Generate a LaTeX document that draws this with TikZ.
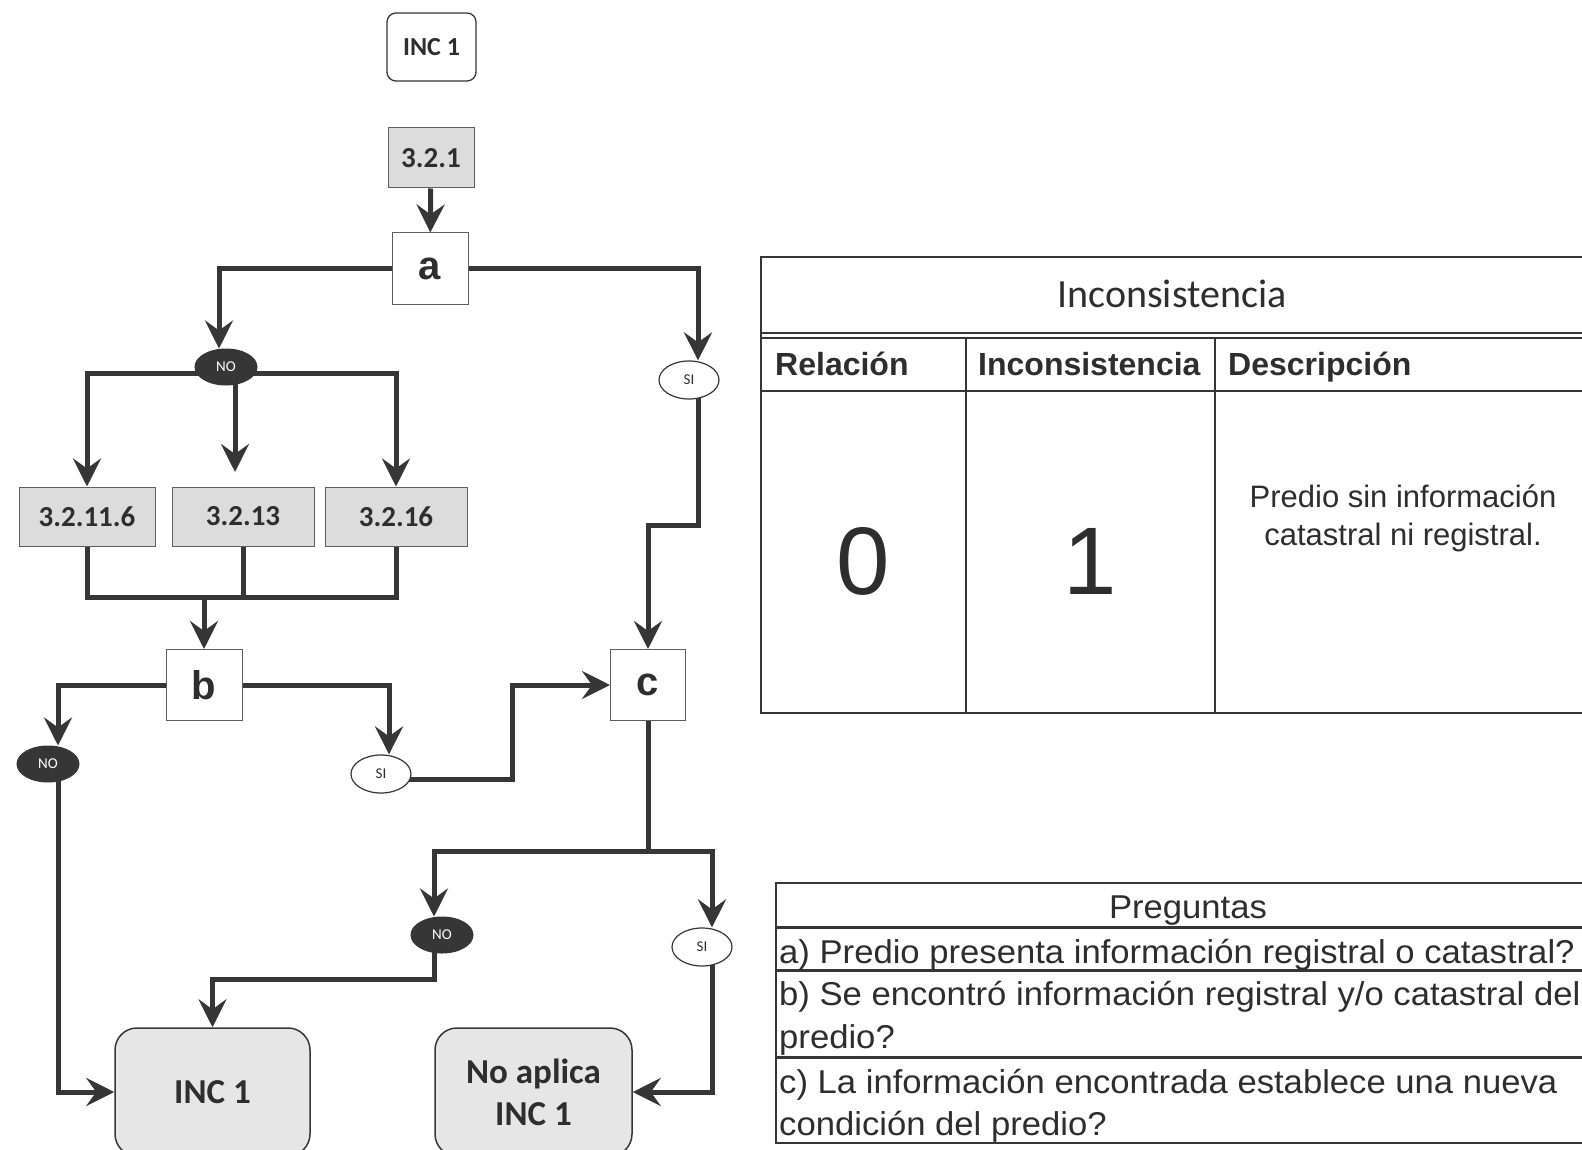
\documentclass[tikz,border=0pt]{standalone}
\usepackage{fontspec}
\setmainfont{Carlito}
\newfontfamily\arialf{Liberation Sans}
\newfontfamily\arialw[FakeStretch=1.05]{Liberation Sans}
\usetikzlibrary{arrows.meta,shapes.geometric,backgrounds}
\definecolor{ink}{HTML}{363636}
\definecolor{boxgray}{HTML}{DCDCDC}
\definecolor{termgray}{HTML}{E6E6E6}
\definecolor{txt}{HTML}{2E2E2E}
\newcommand{\fsz}[1]{\fontsize{#1}{#1}\selectfont}
\tikzset{
  conn/.style={draw=ink, line width=5pt},
  arr/.style={conn, -{Stealth[length=28pt,width=28pt,inset=10pt]}},
  labbox/.style={draw=ink!80, line width=1pt, fill=boxgray, inner sep=0pt,
    font=\bfseries\fsz{29}, text=txt},
  qbox/.style={draw=ink!80, line width=1pt, fill=white, inner sep=0pt,
    font=\arialf\bfseries\fsz{40}, text=txt, minimum height=71pt},
  nodec/.style={ellipse, draw=ink, line width=1pt, fill=ink, text=white,
    inner sep=0pt, minimum width=62pt, minimum height=36pt, font=\fsz{15}},
  yesc/.style={ellipse, draw=ink, line width=1.2pt, fill=white, text=txt,
    inner sep=0pt, minimum width=60pt, minimum height=38pt, font=\fsz{15}},
  term/.style={rounded corners=22pt, draw=ink, line width=1.5pt, fill=termgray,
    inner sep=0pt, align=center, font=\bfseries\fontsize{35}{42}\selectfont, text=txt},
  tline/.style={draw=ink, line width=2pt},
  tlinew/.style={draw=ink, line width=3pt},
  ttxt/.style={text=txt, inner sep=0pt}
}
\begin{document}
\begin{tikzpicture}[x=1pt,y=-1pt]
\useasboundingbox (0,0) rectangle (1582,1150);
\clip (0,0) rectangle (1582,1150);

% ---------- flowchart nodes ----------
\node[draw=ink, line width=1.3pt, rounded corners=9pt, fill=white,
      minimum width=89pt, minimum height=68pt, inner sep=0pt,
      font=\bfseries\fsz{26}, text=txt] (inctop) at (431.5,47) {INC 1};
\node[labbox, minimum width=86pt, minimum height=60pt] (n321) at (431,158) {3.2.1};
\node[qbox, minimum width=76pt, minimum height=72pt] (qa) at (430,269) {a};
\node[nodec] (no1) at (226,367) {NO};
\node[yesc] (si1) at (689,380) {SI};

\node[labbox, minimum width=136pt, minimum height=59pt] (r3116) at (87,516.5) {3.2.11.6};
\node[labbox, minimum width=142pt, minimum height=59pt] (r3213) at (243,516.5) {3.2.13};
\node[labbox, minimum width=142pt, minimum height=59pt] (r3216) at (396,516.5) {3.2.16};

\node[qbox, minimum width=76pt] (qb) at (204,685) {b};
\node[qbox, minimum width=75pt] (qc) at (648,685) {c};
\node[nodec] (no2) at (48,764) {NO};
\node[yesc] (si2) at (381,774) {SI};
\node[nodec] (no3) at (442,935) {NO};
\node[yesc] (si3) at (702,947) {SI};

\node[term, minimum width=195pt, minimum height=128pt] (inc1) at (212.5,1092) {INC 1};
\node[term, minimum width=197pt, minimum height=128pt] (noap) at (533.5,1092) {No aplica\\INC 1};

% ---------- bend points ----------
\coordinate (m13) at (235,472);
\coordinate (mj) at (204,597);
\coordinate (kink) at (512,685);
\coordinate (k2) at (648,525);
\coordinate (split) at (648,851);
\coordinate (k3) at (434,979);

% ---------- connectors ----------
\begin{scope}[on background layer]
\fill[white] (0,0) rectangle (1582,1150);
\draw[arr] (n321) -- (qa);
\draw[arr] (qa.west) -| ([xshift=-7pt]no1.north);
\draw[arr] (qa.east) -| ([xshift=9pt]si1.north);
\draw[arr] ([yshift=-6pt]no1.center) -| (r3116.north);
\draw[arr] ([yshift=-6pt]no1.center) -| (r3216.north);
\draw[arr] ([xshift=9pt]no1.center) -- (m13);
\draw[conn] (r3116.south) |- (mj) -| (r3216.south);
\draw[conn] (r3213.south) -- (r3213.south |- mj);
\draw[arr] (mj) -- (qb.north);
\draw[arr] (qb.west) -| ([xshift=10pt]no2.north);
\draw[arr] ([xshift=10pt]no2.center) |- (inc1.west);
\draw[arr] (qb.east) -| ([xshift=8pt]si2.north);
\draw[arr] ([yshift=-5pt]si2.center) -| (kink) -- (qc.west);
\draw[arr] ([xshift=9pt]si1.center) |- (k2) -- (qc.north);
\draw[conn] (qc.south) -- (split);
\draw[arr] (split) -| ([xshift=-8pt]no3.north);
\draw[arr] (split) -| ([xshift=10pt]si3.north);
\draw[arr] ([xshift=-8pt]no3.center) -- (k3) -| (inc1.north);
\draw[arr] ([xshift=10pt]si3.center) |- (noap.east);
\end{scope}

% ---------- table: Inconsistencia ----------
\draw[tline] (1590,257) -- (761,257) -- (761,713) -- (1590,713);
\draw[tline] (761,333) -- (1590,333);
\draw[tline] (761,338) -- (1590,338);
\draw[tline] (761,391) -- (1590,391);
\draw[tline] (966,338) -- (966,713);
\draw[tline] (1215,338) -- (1215,713);
\node[ttxt, anchor=base, font=\fsz{40}] (ttitle) at (1172,308) {Inconsistencia};
\node[ttxt, anchor=base west, font=\arialf\bfseries\fsz{32}] (hrel) at (775,375) {Relación};
\node[ttxt, anchor=base west, font=\arialf\bfseries\fsz{32}] (hinc) at (978,375) {Inconsistencia};
\node[ttxt, anchor=base west, font=\arialf\bfseries\fsz{32}] (hdes) at (1228,375) {Descripción};
\node[ttxt, anchor=base, font=\arialf\fsz{96}] (vrel) at (863.5,594) {0};
\node[ttxt, anchor=base, font=\arialf\fsz{96}] (vinc) at (1090.5,594) {1};
\node[ttxt, anchor=base, font=\arialf\fsz{31}] (vdes1) at (1403,507) {Predio sin información};
\node[ttxt, anchor=base, font=\arialf\fsz{31}] (vdes2) at (1403,545) {catastral ni registral.};

% ---------- table: Preguntas ----------
\draw[tline] (1590,883) -- (776,883) -- (776,1143) -- (1590,1143);
\draw[tlinew] (776,927) -- (1590,927);
\draw[tlinew] (776,970) -- (1590,970);
\draw[tlinew] (776,1057) -- (1590,1057);
\node[ttxt, anchor=base, font=\arialw\fsz{33}] (ptitle) at (1188,918) {Preguntas};
\node[ttxt, anchor=base west, font=\arialw\fsz{33}] (pa) at (779,963) {a) Predio presenta información registral o catastral?};
\node[ttxt, anchor=base west, font=\arialw\fsz{33}] (pb1) at (779,1005) {b) Se encontró información registral y/o catastral del};
\node[ttxt, anchor=base west, font=\arialw\fsz{33}] (pb2) at (779,1048) {predio?};
\node[ttxt, anchor=base west, font=\arialw\fsz{33}] (pc1) at (779,1093) {c) La información encontrada establece una nueva};
\node[ttxt, anchor=base west, font=\arialw\fsz{33}] (pc2) at (779,1135) {condición del predio?};
\end{tikzpicture}
\end{document}
